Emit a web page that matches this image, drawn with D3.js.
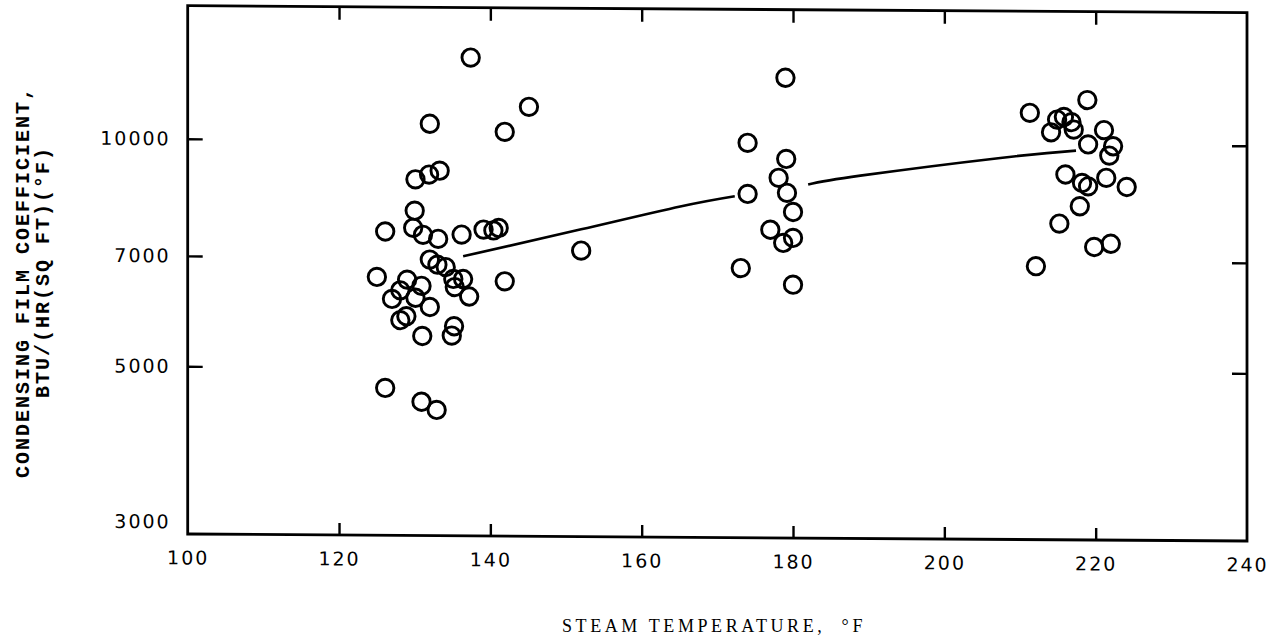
<!DOCTYPE html>
<html>
<head>
<meta charset="utf-8">
<script src="https://cdn.jsdelivr.net/npm/d3@7"></script>
<style>
  html, body { margin: 0; padding: 0; background: #fff; }
  svg { display: block; }
</style>
</head>
<body>
<svg id="chart" width="1275" height="641"></svg>
<script>
// ---- data ----
const xTicks = [100, 120, 140, 160, 180, 200, 220, 240];
const yTicks = [3000, 5000, 7000, 10000];

const steamTemp = [
  137.4, 145.1, 132.0, 141.9, 133.3, 131.9, 130.1, 130.0, 126.1, 129.8,
  131.1, 133.1, 136.2, 139.1, 140.4, 141.1, 132.0, 133.0, 134.1, 125.0,
  129.0, 135.1, 136.4, 130.9, 128.1, 127.0, 130.1, 135.3, 137.2, 132.0,
  128.1, 128.9, 135.2, 134.9, 131.0, 141.9, 126.1, 130.9, 132.9, 152.0,
  179.0, 174.0, 179.1, 178.1, 179.2, 174.0, 180.0, 177.0, 178.7, 180.0,
  173.1, 180.0,
  211.3, 218.9, 214.9, 215.8, 216.8, 214.1, 217.1, 221.1, 219.0, 222.3,
  221.8, 216.0, 218.2, 219.0, 221.4, 224.1, 217.9, 215.2, 219.8, 222.0,
  212.1
];
const filmCoef = [
  12880, 11100, 10520, 10280, 9120, 9010, 8880, 8070, 7570, 7660,
  7500, 7410, 7510, 7630, 7610, 7670, 6955, 6850, 6800, 6590,
  6540, 6560, 6560, 6420, 6330, 6165, 6190, 6400, 6220, 6020,
  5780, 5850, 5680, 5520, 5510, 6520, 4700, 4510, 4400, 7170,
  12190, 9990, 9520, 8985, 8585, 8550, 8100, 7670, 7370, 7485,
  6820, 6490,
  11010, 11460, 10790, 10880, 10710, 10380, 10470, 10460, 10010, 9960,
  9680, 9130, 8900, 8810, 9045, 8800, 8290, 7860, 7325, 7400,
  6900
];

// fitted curve, drawn in two pieces (broken around the 180 F group)
const curve1Temp = [136.4, 152.0, 165.1, 172.3];
const curve1Coef = [7030, 7650, 8220, 8490];
const curve2Temp = [182.0, 188.9, 207.4, 217.4];
const curve2Coef = [8810, 9060, 9590, 9820];

const xTitle = "STEAM TEMPERATURE,  \u00B0F";
const yTitle1 = "CONDENSING FILM COEFFICIENT,";
const yTitle2 = "BTU/(HR(SQ FT)(\u00B0F)";

// ---- drawing ----
const svg = d3.select("#chart");
const L = 187.7, R = 1247, T = 5.7, B = 534;

const x = d3.scaleLinear().domain([100, 240]).range([L, R]);
const y = d3.scaleLog().domain([3000, 15000]).range([B, T]);

// slight shear of the scanned original
const g = svg.append("g")
  .attr("transform", `translate(${L},0) skewY(0.38) translate(${-L},0)`);

const tickFont = "'DejaVu Sans', sans-serif";

// frame
g.append("rect")
  .attr("x", L).attr("y", T)
  .attr("width", R - L).attr("height", B - T)
  .attr("fill", "none").attr("stroke", "#000").attr("stroke-width", 2.8);

// bottom axis
const xAxis = g.append("g")
  .attr("transform", `translate(0,${B})`)
  .call(d3.axisBottom(x).tickValues(xTicks).tickFormat(d3.format("d"))
    .tickSize(-12).tickSizeOuter(0).tickPadding(17));
// top axis
const xAxisTop = g.append("g")
  .attr("transform", `translate(0,${T})`)
  .call(d3.axisTop(x).tickValues(xTicks).tickFormat("")
    .tickSize(-13).tickSizeOuter(0));
// left axis
const yAxis = g.append("g")
  .attr("transform", `translate(${L},0)`)
  .call(d3.axisLeft(y).tickValues(yTicks).tickFormat(d3.format("d"))
    .tickSize(-15).tickSizeOuter(0).tickPadding(17));
// right axis
const yAxisRight = g.append("g")
  .attr("transform", `translate(${R},0)`)
  .call(d3.axisRight(y).tickValues(yTicks).tickFormat("")
    .tickSize(-15).tickSizeOuter(0));

[xAxis, xAxisTop, yAxis, yAxisRight].forEach(a => {
  a.select(".domain").remove();
  a.selectAll(".tick line").attr("stroke", "#000").attr("stroke-width", 2.4);
});
// corner ticks are hidden by the frame
xAxis.selectAll(".tick").filter(d => d === 100 || d === 240).select("line").remove();
xAxisTop.selectAll(".tick").filter(d => d === 100 || d === 240).select("line").remove();
yAxis.selectAll(".tick").filter(d => d === 3000).select("line").remove();
yAxisRight.selectAll(".tick").filter(d => d === 3000).select("line").remove();

xAxis.selectAll(".tick text")
  .attr("font-family", tickFont).attr("font-size", 19)
  .attr("letter-spacing", 2).attr("fill", "#000");
yAxis.selectAll(".tick text")
  .attr("font-family", tickFont).attr("font-size", 19)
  .attr("letter-spacing", 2).attr("fill", "#000");
yAxis.selectAll(".tick").filter(d => d === 3000).select("text").attr("dy", "-0.32em");

// fitted curve
const line = d3.line().x(d => x(d[0])).y(d => y(d[1])).curve(d3.curveNatural);
[[curve1Temp, curve1Coef], [curve2Temp, curve2Coef]].forEach(([tt, cc]) => {
  g.append("path")
    .datum(tt.map((t, i) => [t, cc[i]]))
    .attr("d", line)
    .attr("fill", "none").attr("stroke", "#000").attr("stroke-width", 2.6);
});

// data points
g.append("g").selectAll("circle")
  .data(steamTemp.map((t, i) => [t, filmCoef[i]]))
  .join("circle")
  .attr("cx", d => x(d[0]))
  .attr("cy", d => y(d[1]))
  .attr("r", 8.7)
  .attr("fill", "none")
  .attr("stroke", "#000")
  .attr("stroke-width", 2.9);

// axis titles
svg.append("text")
  .attr("x", 714).attr("y", 632)
  .attr("text-anchor", "middle")
  .attr("font-family", "'Liberation Serif', serif")
  .attr("font-size", 18)
  .attr("letter-spacing", 3.6)
  .style("white-space", "pre")
  .text(xTitle);

svg.append("text")
  .attr("transform", "translate(29,282) rotate(-90)")
  .attr("text-anchor", "middle")
  .attr("font-family", "'Liberation Mono', monospace")
  .attr("font-weight", "bold")
  .attr("font-size", 20)
  .attr("letter-spacing", 2)
  .text(yTitle1);

svg.append("text")
  .attr("transform", "translate(49,272) rotate(-90)")
  .attr("text-anchor", "middle")
  .attr("font-family", "'Liberation Mono', monospace")
  .attr("font-weight", "bold")
  .attr("font-size", 20)
  .attr("letter-spacing", 2)
  .text(yTitle2);
</script>
</body>
</html>
